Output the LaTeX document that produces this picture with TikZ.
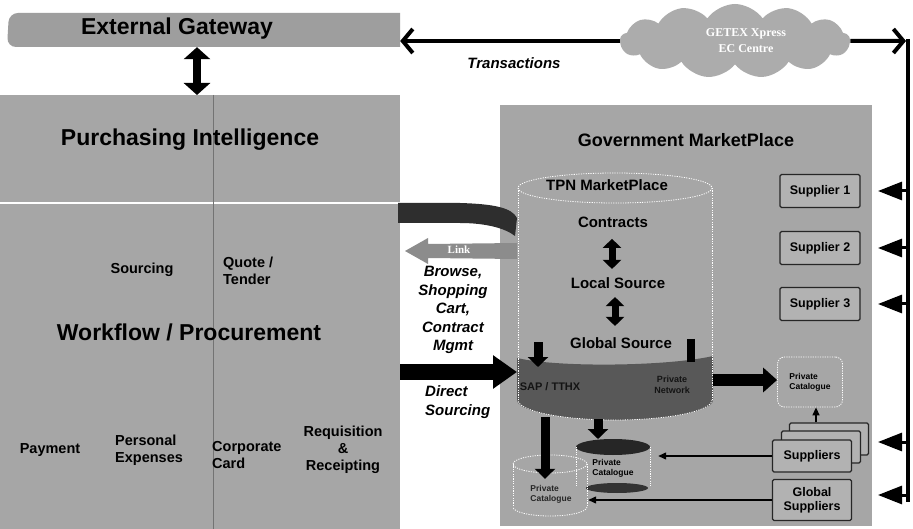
\documentclass[tikz,border=0pt]{standalone}
\usepackage{fontspec}
\setmainfont{Liberation Sans}
\newfontfamily\seriffam{Liberation Serif}
\usetikzlibrary{arrows.meta,shapes.symbols,calc}
\definecolor{panelgray}{RGB}{166,166,166}
\definecolor{bandgray}{RGB}{158,158,158}
\definecolor{boxgray}{RGB}{178,178,178}
\definecolor{darkband}{RGB}{88,88,88}
\definecolor{cloudgray}{RGB}{172,172,172}
\definecolor{linkgray}{RGB}{140,140,140}
\begin{document}
\begin{tikzpicture}[x=1pt,y=-1pt,
  panel/.style={fill=panelgray, draw=none, inner sep=0pt, outer sep=0pt},
  title/.style={font=\fontsize{23}{26}\selectfont\bfseries},
  subtitle/.style={font=\fontsize{15}{17}\selectfont\bfseries},
  item/.style={font=\fontsize{14.5}{16.5}\selectfont\bfseries, align=left, inner sep=0pt},
  note/.style={font=\fontsize{15}{18.5}\selectfont\bfseries\itshape, inner sep=0pt},
  tiny/.style={font=\fontsize{8.5}{10}\selectfont\bfseries, align=left, inner sep=0pt},
  supbox/.style={draw=black!85, line width=1.3pt, fill=boxgray, rounded corners=1.5pt,
    minimum width=80pt, minimum height=33pt, inner sep=1pt,
    font=\fontsize{12.5}{14}\selectfont\bfseries, align=center},
  dotline/.style={draw=white, line width=0.8pt, dash pattern=on 1.2pt off 1.2pt},
  dblbig/.style={line width=8pt, {Triangle[length=12pt,width=26pt]}-{Triangle[length=12pt,width=26pt]}},
  dblsmall/.style={line width=7pt, {Triangle[length=9pt,width=18pt]}-{Triangle[length=9pt,width=18pt]}},
  blockdown/.style={line width=9pt, -{Triangle[length=10pt,width=20pt]}},
  blockright/.style={line width=16pt, -{Triangle[length=24pt,width=32pt]}},
  catarrow/.style={line width=12pt, -{Triangle[length=14pt,width=24pt]}},
  trans/.style={line width=4pt, -{Straight Barb[length=10pt,width=24pt,line width=4pt]}},
  busarrow/.style={line width=3pt, -{Triangle[length=24pt,width=18pt]}},
  thinarrow/.style={line width=1.3pt, -{Triangle[length=8pt,width=7pt]}}
]
\useasboundingbox (0,0) rectangle (913,529);
\fill[white] (0,0) rectangle (913,529);

% ---------- panels ----------
\node[panel, minimum width=400pt, minimum height=434pt] (lp) at (200,312) {};
\node[panel, minimum width=372pt, minimum height=421pt] (rp) at (686,315.5) {};

% external gateway band
\fill[bandgray] (400,13) [rounded corners=9pt] -- (9,13) -- (7,47) [sharp corners] -- (400,47) -- cycle;
\node[minimum width=392pt, minimum height=34pt, inner sep=0pt] (gw) at (204,30) {};
\node[title] (gwt) at (177,29) {External Gateway};

% left panel rules
\draw[white, line width=1.2pt] (lp.west |- 0,203) -- (lp.east |- 0,203);
\draw[black!55, line width=0.8pt] (lp.north -| 213,0) -- (lp.south -| 213,0);

% left panel texts
\node[title] (pi) at (190,140) {Purchasing Intelligence};
\node[item] (src) at (142,270) {Sourcing};
\node[item, anchor=west] (qt) at (223,271) {Quote /\\Tender};
\node[title] (wp) at (189,332) {Workflow / Procurement};
\node[item] (pay) at (50,450) {Payment};
\node[item, anchor=west] (pe) at (115,450) {Personal\\Expenses};
\node[item, anchor=west] (cc) at (212,455) {Corporate\\Card};
\node[item, align=center, font=\fontsize{14.5}{17}\selectfont\bfseries] (rr) at (343,450) {Requisition\\\&\\Receipting};

% gateway <-> purchasing intelligence
\draw[dblbig] ([xshift=-7pt]gw.south) -- ([xshift=-7pt]gw.south |- lp.north);

% ---------- cloud and transactions ----------
\node[cloud, cloud puffs=13, cloud puff arc=110, aspect=3, fill=cloudgray,
      minimum width=230pt, minimum height=74pt, inner sep=0pt] (cl) at (735,41) {};
\node[font=\seriffam\fontsize{12}{16}\selectfont\bfseries, text=white, align=center] (clt) at (746,41) {GETEX Xpress\\EC Centre};
\draw[trans] (cl.west) -- (cl.west -| gw.east);
\node[font=\fontsize{15}{17}\selectfont\bfseries\itshape] (tr) at (514,63) {Transactions};

\coordinate (bustop) at (908,41);
\coordinate (busbot) at (908,502);
\coordinate (tipx) at (878,0);
\draw[trans] (cl.east) -- ([xshift=-2pt]bustop);
\draw[line width=4pt] ([yshift=2pt]bustop) -- (busbot);

% ---------- government marketplace ----------
\node[font=\fontsize{18}{20}\selectfont\bfseries] (gm) at (686,140) {Government MarketPlace};

% dark base of the TPN cylinder
\fill[darkband] (517,358) .. controls (560,368) and (670,366) .. (713,356) -- (713,400)
  arc[start angle=0, end angle=180, x radius=98, y radius=20] -- cycle;
% cylinder outline
\draw[dotline] (615,188) ellipse[x radius=97, y radius=15];
\draw[dotline] (518,188) -- (518,400);
\draw[dotline] (712,188) -- (712,400);
\draw[dotline] (712,400) arc[start angle=0, end angle=180, x radius=97, y radius=20];

\node[subtitle] (tpn) at (607,185) {TPN MarketPlace};
\node[subtitle] (con) at (613,222) {Contracts};
\node[subtitle] (loc) at (618,283) {Local Source};
\node[subtitle] (glo) at (621,343) {Global Source};
\node[font=\fontsize{11}{13}\selectfont\bfseries, text=black!92] (sap) at (550,387) {SAP / TTHX};
\node[font=\fontsize{9}{10.5}\selectfont\bfseries, text=black!92, align=center] (pnet) at (672,385) {Private\\Network};

\draw[dblsmall, shorten <=8pt, shorten >=5pt] (con.south -| 612,0) -- (loc.north -| 612,0);
\draw[dblsmall, shorten <=5pt, shorten >=8pt] (loc.south -| 615,0) -- (glo.north -| 615,0);

\coordinate (inA) at (538,342);
\coordinate (inAend) at (538,367);
\draw[blockdown] (inA) -- (inAend);
\coordinate (inB) at (691,339);
\coordinate (inBend) at (691,362);
\draw[line width=8pt] (inB) -- (inBend);

% private catalogue (box fed from the base)
\node[draw=white, line width=0.8pt, dash pattern=on 1.2pt off 1.2pt, rounded corners=7pt,
      minimum width=65pt, minimum height=50pt, tiny, align=left] (pcat) at (810,382) {Private\\Catalogue};
\coordinate (bandR) at (713,380);
\draw[catarrow] (bandR) -- (pcat.west |- bandR);

% private catalogue cylinders under the base
\fill[black!85] (613,447) ellipse[x radius=37, y radius=8];
\fill[black!80] (617,488) ellipse[x radius=31, y radius=5];
\draw[dotline] (576,447) -- (576,486);
\draw[dotline] (650,447) -- (650,486);
\node[tiny, minimum width=74pt, minimum height=44pt, align=left] (pc1) at (613,468) {Private\\Catalogue};

\draw[dotline] (550,464) ellipse[x radius=37, y radius=9];
\draw[dotline] (513,464) -- (513,507);
\draw[dotline] (587,464) -- (587,507);
\draw[dotline] (587,507) arc[start angle=0, end angle=180, x radius=37, y radius=9];
\node[tiny, text=black!85, minimum width=74pt, minimum height=30pt, align=left] (pc2) at (551,494) {Private\\Catalogue};

\coordinate (outA) at (545,417);
\coordinate (outB) at (598,419);
\draw[blockdown] (outA) -- (outA |- pc2.north);
\draw[blockdown] (outB) -- (598,439);

% ---------- suppliers ----------
\node[supbox] (s1) at (820,191) {Supplier 1};
\node[supbox] (s2) at (820,248) {Supplier 2};
\node[supbox] (s3) at (820,304) {Supplier 3};

\node[supbox, minimum width=79pt, minimum height=32pt] (sb2) at (829,439) {};
\node[supbox, minimum width=79pt, minimum height=32pt] (sb1) at (821,447) {};
\node[supbox, minimum width=79pt, minimum height=32pt] (sups) at (812,456) {Suppliers};
\node[supbox, minimum width=79pt, minimum height=41pt] (gsups) at (812,500) {Global\\Suppliers};

\draw[thinarrow] (sb2.north -| 816,0) -- (pcat.south -| 816,0);
\draw[thinarrow, shorten >=8pt] (sups.west) -- (sups.west -| pc1.east);
\draw[thinarrow] (gsups.west) -- (gsups.west -| pc2.east);

% bus arrows into the marketplace
\draw[busarrow] (bustop |- s1) -- (tipx |- s1);
\draw[busarrow] (bustop |- s2) -- (tipx |- s2);
\draw[busarrow] (bustop |- s3) -- (tipx |- s3);
\draw[busarrow] (bustop |- 0,442) -- (tipx |- 0,442);
\draw[busarrow] (bustop |- 0,495) -- (tipx |- 0,495);

% ---------- link ribbon and connectors between the panels ----------
\fill[black!82] (398,203) -- (460,203) .. controls (495,204) and (512,208) .. (517,218)
  -- (515,236) .. controls (505,228) and (485,223) .. (460,223) -- (398,223) -- cycle;
\fill[linkgray] (405,251) -- (428,238) -- (428,244) -- (517,243) -- (517,259) -- (428,258) -- (428,264) -- cycle;
\node[font=\seriffam\fontsize{11}{12}\selectfont\bfseries, text=white] (lnk) at (459,250) {Link};

\node[note, align=center] (bsc) at (453,310) {Browse,\\Shopping\\Cart,\\Contract\\Mgmt};

\coordinate (cylW) at (517,372);
\draw[blockright] (lp.east |- cylW) -- (cylW);
\node[note, align=left, anchor=west] (ds) at (425,402) {Direct\\Sourcing};
\end{tikzpicture}
\end{document}
